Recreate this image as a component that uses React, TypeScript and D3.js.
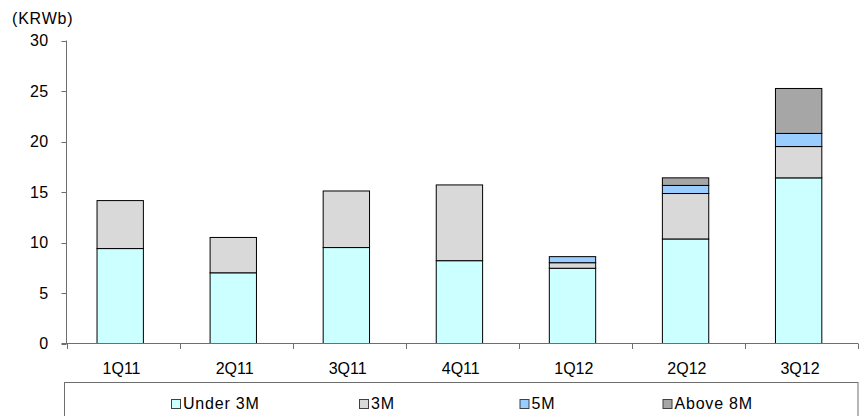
import React from "react";
import * as d3 from "d3";

const quarters = ["1Q11", "2Q11", "3Q11", "4Q11", "1Q12", "2Q12", "3Q12"];
const seriesNames = ["Under 3M", "3M", "5M", "Above 8M"];
const under3M = [9.4, 7.0, 9.5, 8.2, 7.45, 10.35, 16.4];
const m3 = [4.75, 3.5, 5.6, 7.5, 0.55, 4.5, 3.1];
const m5 = [0, 0, 0, 0, 0.6, 0.8, 1.3];
const above8M = [0, 0, 0, 0, 0, 0.75, 4.45];
const yTicks = [0, 5, 10, 15, 20, 25, 30];
const colors = ["#CCFFFF", "#D9D9D9", "#99CCFF", "#A6A6A6"];

const W = 860;
const H = 416;
const FONT = "'Liberation Sans', Arial, sans-serif";
const AXIS = "#6e6e6e";

export default function App() {
  const rows = quarters.map((q, i) => ({
    q,
    "Under 3M": under3M[i],
    "3M": m3[i],
    "5M": m5[i],
    "Above 8M": above8M[i],
  }));
  const stacked = d3.stack<any>().keys(seriesNames)(rows);

  const x = d3.scaleBand().domain(quarters).range([66.5, 858]).padding(0);
  const y = d3.scaleLinear().domain([0, 30]).range([343.5, 40.5]);
  const bw = x.bandwidth();
  const barOff = bw * 0.27;
  const barW = bw * 0.41;

  const legendX = [171.5, 359.5, 520, 663];

  return (
    <svg
      width={W}
      height={H}
      style={{ position: "absolute", left: 0, top: 0, background: "#fff" }}
      fontFamily={FONT}
    >
      {/* unit */}
      <text x={12} y={24} fontSize={16} letterSpacing={0.8} fill="#000">
        (KRWb)
      </text>

      {/* y axis */}
      <line x1={66.5} x2={66.5} y1={y(30)} y2={y(0)} stroke={AXIS} strokeWidth={1} />
      {yTicks.map((t) => (
        <g key={t}>
          <line x1={61.5} x2={66.5} y1={Math.round(y(t)) + 0.5} y2={Math.round(y(t)) + 0.5} stroke={AXIS} />
          <text
            x={48.5}
            y={y(t)}
            dy="0.36em"
            textAnchor="end"
            fontSize={16}
            letterSpacing={0.4}
            fill="#000"
          >
            {t}
          </text>
        </g>
      ))}

      {/* bars */}
      {stacked.map((s, si) => (
        <g key={s.key}>
          {s.map((d, i) => {
            const v = d[1] - d[0];
            if (v <= 0) return null;
            return (
              <rect
                key={i}
                x={(x(quarters[i]) as number) + barOff}
                y={y(d[1])}
                width={barW}
                height={y(d[0]) - y(d[1])}
                fill={colors[si]}
                stroke="#000"
                strokeWidth={1}
              />
            );
          })}
        </g>
      ))}

      {/* x axis */}
      <line x1={61.5} x2={858} y1={343.5} y2={343.5} stroke={AXIS} strokeWidth={1} />
      {[...quarters.map((q) => x(q) as number), 858].map((px, i) => (
        <line key={i} x1={Math.round(px) + 0.5} x2={Math.round(px) + 0.5} y1={343.5} y2={349} stroke={AXIS} />
      ))}
      {quarters.map((q) => (
        <text
          key={q}
          x={(x(q) as number) + bw / 2 - 1.5}
          y={374.3}
          textAnchor="middle"
          fontSize={16}
          fill="#000"
        >
          {q}
        </text>
      ))}

      {/* legend */}
      <rect x={64.5} y={382.5} width={793.5} height={40} fill="none" stroke={AXIS} strokeWidth={1} />
      {seriesNames.map((n, i) => (
        <g key={n}>
          <rect x={legendX[i]} y={399.5} width={9} height={9} fill={colors[i]} stroke="#404040" strokeWidth={1} />
          <text x={legendX[i] + 11.5} y={409.3} fontSize={16} letterSpacing={0.8} fill="#000">
            {n}
          </text>
        </g>
      ))}
    </svg>
  );
}
